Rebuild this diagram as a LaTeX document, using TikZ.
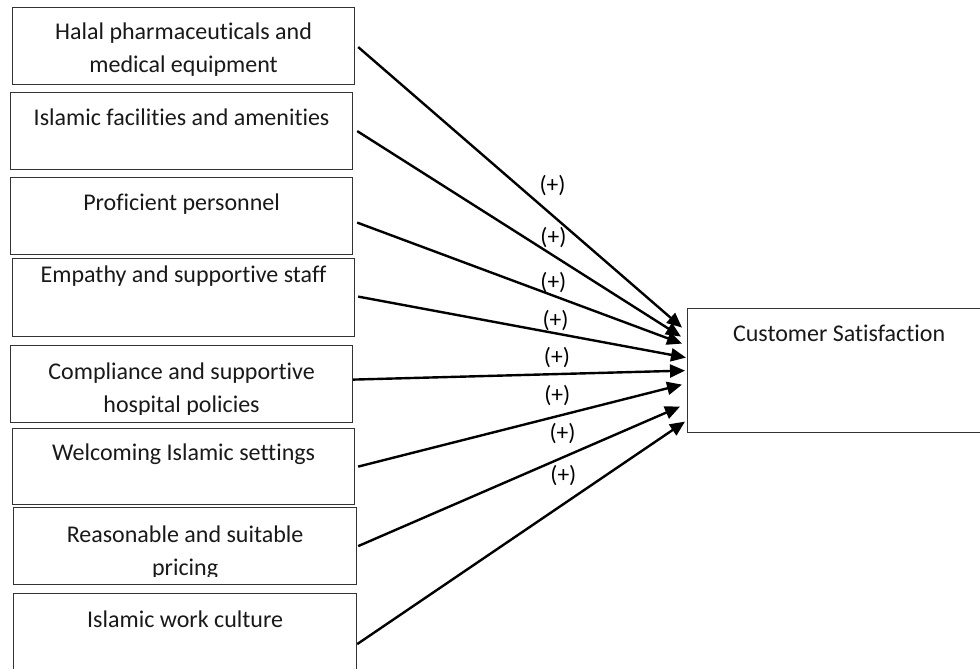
\documentclass[tikz,border=0pt]{standalone}
\usepackage{fontspec}
\setmainfont{Carlito}[Ligatures=NoCommon]
\usetikzlibrary{arrows.meta}

\begin{document}
\begin{tikzpicture}[
    x=1pt, y=-1pt,
    factor_box/.style={
        draw=black!80,
        line width=1.2pt,
        anchor=north west,
        inner sep=0pt,
        minimum width=342pt,
        minimum height=77pt
    },
    factor_text/.style={
        anchor=base,
        align=center,
        inner sep=0pt,
        font=\fontsize{24}{33}\selectfont,
        color=black!90
    },
    sign_label/.style={
        inner sep=0pt,
        font=\fontsize{23.5}{28}\selectfont,
        color=black
    },
    arrow_line/.style={
        -{Triangle[length=15pt, width=13pt]},
        line width=2.4pt,
        color=black
    }
]
\useasboundingbox (0,0) rectangle (980,669);

% =========================
% FACTORS (left column)
% =========================
% two-line texts sit on the base of their last line
\node[factor_box] (halal) at (12,7) {};
\begin{scope}
    \clip (halal.north west) rectangle ([yshift=9pt]halal.south east);
    \node[factor_text] (halal_text) at ([yshift=-66pt]halal.north)
        {Halal pharmaceuticals and\\medical equipment};
\end{scope}

\node[factor_box] (facilities) at (10,92) {};
\node[factor_text] (facilities_text) at ([yshift=-33pt]facilities.north)
    {Islamic facilities and amenities};

\node[factor_box] (personnel) at (10,177) {};
\node[factor_text] (personnel_text) at ([yshift=-33pt]personnel.north)
    {Proficient personnel};

\node[factor_box, minimum height=78pt] (empathy) at (12,258) {};
\node[factor_text] (empathy_text) at ([yshift=-24pt]empathy.north)
    {Empathy and supportive staff};

\node[factor_box] (compliance) at (10,345) {};
\begin{scope}
    \clip (compliance.north west) rectangle ([yshift=9pt]compliance.south east);
    \node[factor_text] (compliance_text) at ([yshift=-67pt]compliance.north)
        {Compliance and supportive\\hospital policies};
\end{scope}

\node[factor_box, minimum height=76pt] (settings) at (12,428) {};
\node[factor_text] (settings_text) at ([yshift=-32pt]settings.north)
    {Welcoming Islamic settings};

\node[factor_box, minimum width=343pt] (pricing) at (13,507) {};
\begin{scope}
    \clip (pricing.north west) rectangle ([yshift=9pt]pricing.south east);
    \node[factor_text] (pricing_text) at ([yshift=-68pt]pricing.north)
        {Reasonable and suitable\\pricing};
\end{scope}

\node[factor_box, minimum width=343pt, minimum height=79pt] (culture) at (13,593) {};
\node[factor_text] (culture_text) at ([yshift=-34pt]culture.north)
    {Islamic work culture};

% =========================
% OUTCOME
% =========================
\node[factor_box, minimum width=303pt, minimum height=124pt] (satisfaction) at (687,308) {};
\node[factor_text] (satisfaction_text) at ([yshift=-33pt]satisfaction.north)
    {Customer Satisfaction};

% =========================
% ARROWS
% =========================
\draw[arrow_line] ([xshift=3pt, yshift=-1pt]halal.east)
    -- ([xshift=-5pt, yshift=43pt]satisfaction.west)
    node[sign_label, pos=0.6, yshift=30pt] {(+)};
\draw[arrow_line] ([xshift=4pt]facilities.east)
    -- ([xshift=-6pt, yshift=34pt]satisfaction.west)
    node[sign_label, pos=0.606, yshift=18pt] {(+)};
\draw[arrow_line] ([xshift=4pt, yshift=-6.5pt]personnel.east)
    -- ([xshift=-5pt, yshift=27pt]satisfaction.west)
    node[sign_label, pos=0.604, yshift=13pt] {(+)};
\draw[arrow_line] ([xshift=3pt, yshift=1pt]empathy.east)
    -- ([xshift=-1pt, yshift=13pt]satisfaction.west)
    node[sign_label, pos=0.602, yshift=13pt] {(+)};
\draw[arrow_line] ([yshift=4.5pt]compliance.east)
    -- ([xshift=-2pt]satisfaction.west)
    node[sign_label, pos=0.614, yshift=16.5pt] {(+)};
\draw[arrow_line] ([xshift=3pt]settings.east)
    -- ([xshift=-5pt, yshift=-14pt]satisfaction.west)
    node[sign_label, pos=0.615, yshift=20.5pt] {(+)};
\draw[arrow_line] ([xshift=1pt]pricing.east)
    -- ([xshift=-7pt, yshift=-36pt]satisfaction.west)
    node[sign_label, pos=0.635, yshift=24pt] {(+)};
\draw[arrow_line] ([yshift=-11pt]culture.east)
    -- ([xshift=-2pt, yshift=-51pt]satisfaction.west)
    node[sign_label, pos=0.629, yshift=28.5pt] {(+)};

\end{tikzpicture}
\end{document}
